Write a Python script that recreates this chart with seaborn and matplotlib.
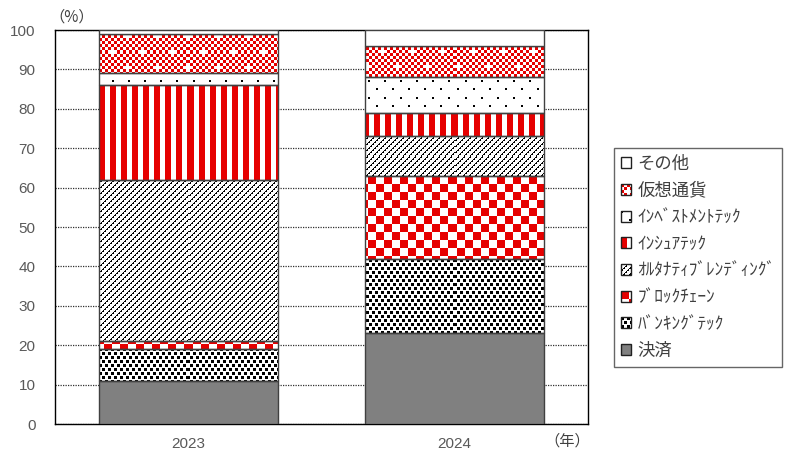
import numpy as np
import matplotlib
matplotlib.use("Agg")
import matplotlib.pyplot as plt
import seaborn as sns
from matplotlib.patches import Patch, Rectangle
from matplotlib.legend_handler import HandlerBase

# ---------------- data ----------------
years = ["2023", "2024"]
series = ["決済", "ﾊﾞﾝｷﾝｸﾞﾃｯｸ", "ﾌﾞﾛｯｸﾁｪｰﾝ", "ｵﾙﾀﾅﾃｨﾌﾞﾚﾝﾃﾞｨﾝｸﾞ",
          "ｲﾝｼｭｱﾃｯｸ", "ｲﾝﾍﾞｽﾄﾒﾝﾄﾃｯｸ", "仮想通貨", "その他"]
payments = [11, 23]
banking = [8, 19]
blockchain = [2, 21]
alt_lending = [41, 10]
insurtech = [24, 6]
investtech = [3, 9]
crypto = [10, 8]
other = [1, 4]
values = [payments, banking, blockchain, alt_lending, insurtech, investtech, crypto, other]
yticks = list(range(0, 101, 10))

# ---------------- style ----------------
sns.set_style("white")
plt.rcParams["font.family"] = ["Liberation Sans", "Noto Sans CJK JP", "DejaVu Sans"]

RED = np.array([230, 0, 0]) / 255.0
WHITE = np.array([1.0, 1.0, 1.0])
BLACK = np.array([0.0, 0.0, 0.0])
GREY = np.array([128, 128, 128]) / 255.0
EDGE = "#404040"


def p_banking(X, Y):
    xm, ym = X % 12, Y % 8
    a = (ym < 3) & ((xm < 3) | ((xm >= 6) & (xm < 9)))
    b = (ym >= 4) & (ym < 7) & (((xm >= 3) & (xm < 6)) | (xm >= 9))
    return a | b


def p_block(X, Y):
    return ((X // 8 + Y // 8) % 2) == 0


def p_alt(X, Y):
    d = (X + Y) % 6
    return (d == 0) | ((d == 1) & (Y % 2 == 0))


def p_insur(X, Y):
    return (X % 11) < 6


def p_invest(X, Y):
    a = (X % 16 < 2) & (Y % 16 < 2)
    b = ((X + 8) % 16 < 2) & ((Y + 8) % 16 < 2)
    return a | b


def p_crypto(X, Y):
    cx, cy = X // 3, Y // 3
    base = ((cx + cy) % 2) == 0
    mx, my = cx % 10, cy % 10
    p1 = ((my == 2) & (mx >= 1) & (mx <= 3)) | ((mx == 2) & (my >= 1) & (my <= 3))
    p2 = ((my == 7) & (mx >= 6) & (mx <= 8)) | ((mx == 7) & (my >= 6) & (my <= 8))
    return base & ~(p1 | p2)


PATTERNS = [
    (None, GREY, GREY),
    (p_banking, BLACK, WHITE),
    (p_block, RED, WHITE),
    (p_alt, BLACK, WHITE),
    (p_insur, RED, WHITE),
    (p_invest, BLACK, WHITE),
    (p_crypto, RED, WHITE),
    (None, WHITE, WHITE),
]

W, H = 787, 454
fig = plt.figure(figsize=(W / 100, H / 100), dpi=100)
ax = fig.add_axes([55 / W, 30 / H, 533 / W, 394 / H])

bottom = np.zeros(len(years))
containers = []
for vals, (fn, ink, bg) in zip(values, PATTERNS):
    sns.barplot(x=years, y=vals, bottom=bottom.copy(), color=bg, saturation=1,
                width=0.672, edgecolor=EDGE, linewidth=1.0, errorbar=None, ax=ax)
    containers.append(ax.containers[-1])
    bottom = bottom + np.array(vals, dtype=float)

ax.set_xlim(-0.5, 1.5)
ax.set_ylim(0, 100)


def add_texture(patch, fn, ink, bg):
    x0, y0 = patch.get_x(), patch.get_y()
    x1, y1 = x0 + patch.get_width(), y0 + patch.get_height()
    (px0, py0), (px1, py1) = ax.transData.transform([(x0, y0), (x1, y1)])
    w = max(int(round(px1 - px0)), 1)
    h = max(int(round(py1 - py0)), 1)
    XX, YY = np.meshgrid(np.arange(w) + int(round(px0)),
                         np.arange(h) + int(round(H - py1)))
    m = fn(XX, YY)
    img = np.where(m[..., None], ink, bg)
    im = ax.imshow(img, extent=(x0, x1, y0, y1), interpolation="nearest",
                   aspect="auto", origin="upper", zorder=2.2)
    im.set_clip_path(patch)


for cont, (fn, ink, bg) in zip(containers, PATTERNS):
    for patch in cont.patches:
        patch.set_zorder(3)
        if fn is not None:
            add_texture(patch, fn, ink, bg)
            patch.set_facecolor("none")

ax.set_xlim(-0.5, 1.5)
ax.set_ylim(0, 100)
ax.set_yticks(yticks)
ax.set_axisbelow(True)
ax.yaxis.grid(True, color="#303030", linestyle=(0, (1, 1)), linewidth=0.9, zorder=0)
ax.xaxis.grid(False)
for s in ax.spines.values():
    s.set_visible(True)
    s.set_color("#000000")
    s.set_linewidth(1.0)
ax.tick_params(axis="y", length=0, pad=14, labelsize=11, labelcolor="#595959")
ax.tick_params(axis="x", length=0, pad=9, labelsize=11, labelcolor="#595959")
ax.set_xlabel("")
ax.set_ylabel("")

jp = ["Noto Sans CJK JP", "DejaVu Sans"]
fig.text(72 / W, 1 - 17 / H, "（%）", ha="center", va="center", fontsize=11,
         color="#404040", family=jp)
fig.text(567 / W, 1 - 441 / H, "（年）", ha="center", va="center", fontsize=11,
         color="#404040", family=jp)


class TexHandler(HandlerBase):
    def __init__(self, pat):
        super().__init__()
        self.pat = pat

    def create_artists(self, legend, orig_handle, xdescent, ydescent, width,
                       height, fontsize, trans):
        fn, ink, bg = self.pat
        px = 72.0 / fig.dpi
        nw = max(int(round(width / px)), 1)
        nh = max(int(round(height / px)), 1)
        x0, y0 = -xdescent, -ydescent
        arts = [Rectangle((x0, y0), width, height, facecolor=bg, edgecolor="none",
                          transform=trans)]
        if fn is not None:
            XX, YY = np.meshgrid(np.arange(nw), np.arange(nh))
            m = fn(XX, YY)
            for r, c in zip(*np.nonzero(m)):
                arts.append(Rectangle((x0 + c * px, y0 + height - (r + 1) * px), px, px,
                                      facecolor=ink, edgecolor="none", linewidth=0,
                                      antialiased=False, transform=trans))
        arts.append(Rectangle((x0, y0), width, height, facecolor="none",
                              edgecolor="#202020", linewidth=1.0, transform=trans))
        return arts


handles = [Patch(label=s) for s in series]
hmap = {h: TexHandler(p) for h, p in zip(handles, PATTERNS)}
leg = fig.legend(handles[::-1], series[::-1], handler_map=hmap,
                 loc="upper left", bbox_to_anchor=(614 / W, 1 - 148 / H),
                 bbox_transform=fig.transFigure, borderaxespad=0,
                 prop={"family": jp, "size": 12.5}, labelcolor="#404040",
                 frameon=True, fancybox=False, edgecolor="#404040",
                 handlelength=0.6, handleheight=0.6, handletextpad=0.35,
                 labelspacing=0.5, borderpad=0.4)
leg.get_frame().set_linewidth(1.0)

fig.savefig("out.png", dpi=100)
